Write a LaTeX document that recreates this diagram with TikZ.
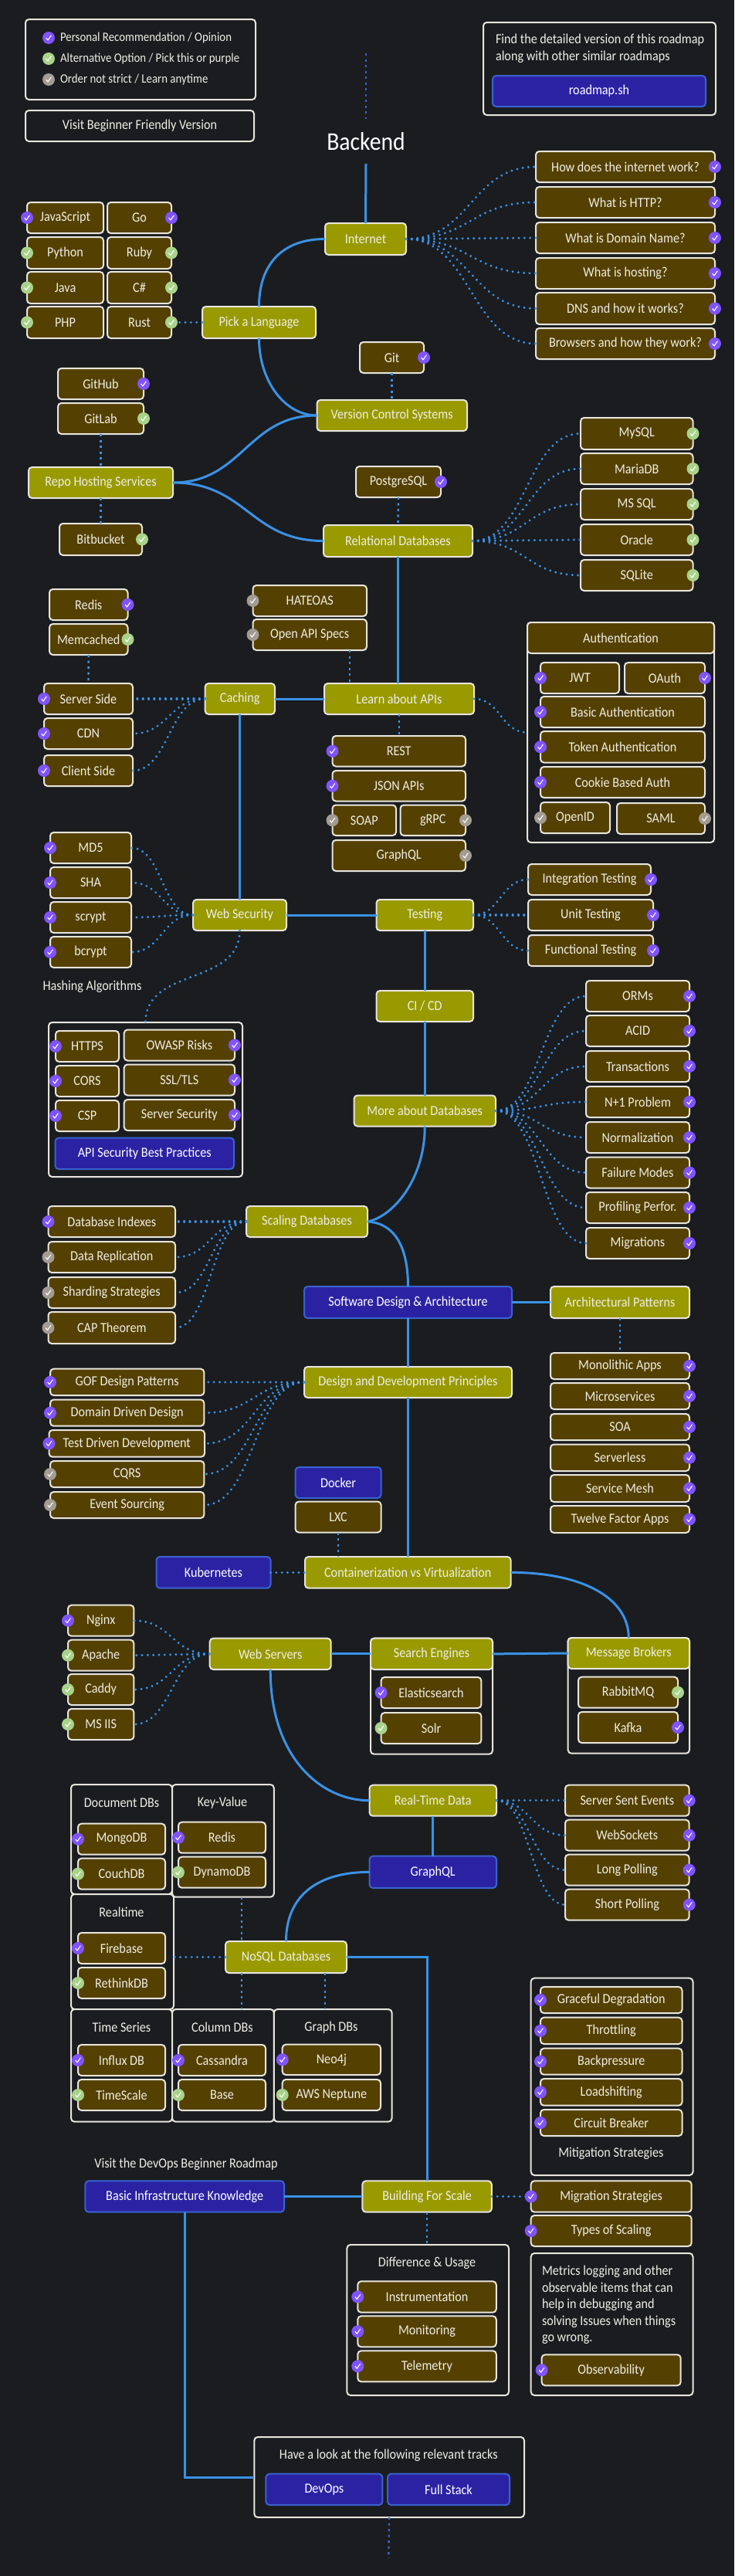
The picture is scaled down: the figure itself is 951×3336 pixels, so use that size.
\documentclass[tikz,border=0pt]{standalone}
\usepackage{fontspec}
\setmainfont[FakeStretch=0.9]{Carlito}
\usetikzlibrary{calc}
\definecolor{bgc}{HTML}{1A1C1F}
\definecolor{edgec}{HTML}{E8E5DC}
\definecolor{brownc}{HTML}{544000}
\definecolor{olivec}{HTML}{999900}
\definecolor{bluec}{HTML}{2B22A3}
\definecolor{blueedge}{HTML}{3A62CE}
\definecolor{linec}{HTML}{3A92E6}
\definecolor{purc}{HTML}{7F54FF}
\definecolor{grnc}{HTML}{A9D38A}
\definecolor{gryc}{HTML}{A29C93}
\definecolor{txtc}{HTML}{F0EEE6}
\newcounter{bdgc}
\tikzset{
  nb/.style={rounded corners=4.5,draw=edgec,line width=2,outer sep=0,inner sep=0,text=txtc,align=center,font=\fontsize{18}{20}\selectfont},
  brownbox/.style={nb,fill=brownc},
  olivebox/.style={nb,fill=olivec,text=txtc},
  bluebox/.style={nb,fill=bluec,draw=blueedge,text=white},
  contbox/.style={nb,fill=bgc},
  txt/.style={inner sep=0,outer sep=0,text=txtc,font=\fontsize{18}{20}\selectfont},
  solidl/.style={draw=linec,line width=3},
  dotl/.style={draw=linec,line width=3.2,line cap=round,dash pattern=on 0.1pt off 7.2pt},
  vdotl/.style={draw=linec,line width=2.4,dash pattern=on 3pt off 4.5pt},
  topdot/.style={draw=blueedge,line width=2.4,dash pattern=on 3pt off 4.5pt},
  badge/.style={circle,minimum size=16,inner sep=0,outer sep=0,
    path picture={\draw[white,line width=1.1,line cap=round,line join=round]
      ([shift={(-3.2,0.2)}]path picture bounding box.center) -- ++(2.2,2.8) -- ++(4.2,-6);}},
  pur/.style={badge,fill=purc},
  grn/.style={badge,fill=grnc},
  gry/.style={badge,fill=gryc},
}
\newcommand\bx[7]{\pgfmathsetmacro\bxw{#5-#3}\pgfmathsetmacro\bxh{#6-#4}\pgfmathsetmacro\bxx{(#3+#5)/2}\pgfmathsetmacro\bxy{(#4+#6)/2}\node[#2,minimum width=\bxw pt,minimum height=\bxh pt] (#1) at (\bxx,\bxy) {#7};}
\newcommand\bdg[2]{\stepcounter{bdgc}\node[#1] (badge\thebdgc) at (#2) {};}
\newcommand\fanR[3]{\draw[dotl] (#1.east) .. controls +(#3,0) and +(-#3,0) .. (#2.west);}
\newcommand\fanL[3]{\draw[dotl] (#1.west) .. controls +(-#3,0) and +(#3,0) .. (#2.east);}
\begin{document}
\begin{tikzpicture}[x=1pt,y=-1pt]
\fill[bgc] (0,0) rectangle (951,3336);
\useasboundingbox (0,0) rectangle (951,3336);

% legend and links
\bx{legend}{contbox}{33}{25}{331}{129}{}
\coordinate (lg1) at (63,49);\coordinate (lg2) at (63,76);\coordinate (lg3) at (63,103);
\bdg{pur}{lg1}\bdg{grn}{lg2}\bdg{gry}{lg3}
\node[txt,anchor=west,font=\fontsize{16.5}{18}\selectfont] (lt1) at (78,49) {Personal Recommendation / Opinion};
\node[txt,anchor=west,font=\fontsize{16.5}{18}\selectfont] (lt2) at (78,76) {Alternative Option / Pick this or purple};
\node[txt,anchor=west,font=\fontsize{16.5}{18}\selectfont] (lt3) at (78,103) {Order not strict / Learn anytime};
\bx{visit}{contbox}{33}{143}{329}{183}{Visit Beginner Friendly Version}
\bx{findbox}{contbox}{626}{29}{927}{149}{}
\node[txt,anchor=west,align=left,font=\fontsize{18}{22}\selectfont] (findtxt) at (642,63) {Find the detailed version of this roadmap\\along with other similar roadmaps};
\bx{rmsh}{bluebox}{638}{98}{914}{138}{roadmap.sh}

% title
\coordinate (t1) at (474,69);\coordinate (t2) at (474,154);\coordinate (t3) at (474,212);
\draw[topdot] (t1) -- (t2);
\node[txt,text=white,font=\fontsize{33}{36}\selectfont] (backend) at (474,183) {Backend};

% internet
\bx{internet}{olivebox}{421}{289}{526}{330}{Internet}
\bx{q1}{brownbox}{694}{196}{926}{236}{How does the internet work?}
\bx{q2}{brownbox}{694}{242}{926}{282}{What is HTTP?}
\bx{q3}{brownbox}{694}{288}{926}{328}{What is Domain Name?}
\bx{q4}{brownbox}{694}{334}{926}{374}{What is hosting?}
\bx{q5}{brownbox}{694}{379}{926}{420}{DNS and how it works?}
\bx{q6}{brownbox}{694}{425}{926}{465}{Browsers and how they work?}

% languages
\bx{js}{brownbox}{35}{262}{134}{302}{JavaScript}
\bx{go}{brownbox}{139}{262}{222}{302}{Go}
\bx{py}{brownbox}{35}{307}{134}{348}{Python}
\bx{ruby}{brownbox}{139}{307}{222}{348}{Ruby}
\bx{java}{brownbox}{35}{352}{134}{393}{Java}
\bx{cs}{brownbox}{139}{352}{222}{393}{C\#}
\bx{php}{brownbox}{35}{397}{134}{438}{PHP}
\bx{rust}{brownbox}{139}{397}{222}{438}{Rust}
\bx{pick}{olivebox}{262}{397}{409}{438}{Pick a Language}

% vcs
\bx{git}{brownbox}{466}{443}{549}{483}{Git}
\bx{vcs}{olivebox}{410.5}{518}{605}{558}{Version Control Systems}
\bx{github}{brownbox}{75}{477}{186}{517}{GitHub}
\bx{gitlab}{brownbox}{75}{522}{186}{562}{GitLab}
\bx{repo}{olivebox}{37}{605}{224}{645}{Repo Hosting Services}
\bx{bitb}{brownbox}{77}{678}{184}{719}{Bitbucket}

% relational
\bx{pg}{brownbox}{461}{604}{571}{644}{PostgreSQL}
\bx{rel}{olivebox}{419}{680}{612}{721}{Relational Databases}
\bx{mysql}{brownbox}{752}{541}{897.5}{582}{MySQL}
\bx{maria}{brownbox}{752}{587}{897.5}{627}{MariaDB}
\bx{mssql}{brownbox}{752}{633}{897.5}{673}{MS SQL}
\bx{oracle}{brownbox}{752}{679}{897.5}{719}{Oracle}
\bx{sqlite}{brownbox}{752}{725}{897.5}{765}{SQLite}

% caching
\bx{redis}{brownbox}{64}{763}{165.5}{803}{Redis}
\bx{memc}{brownbox}{64}{808}{165.5}{848}{Memcached}
\bx{sside}{brownbox}{57}{885}{172}{925}{Server Side}
\bx{cdn}{brownbox}{57}{930}{172}{970}{CDN}
\bx{cside}{brownbox}{57}{978}{172}{1018}{Client Side}
\bx{caching}{olivebox}{265.6}{885}{356}{925}{Caching}

% apis
\bx{hateoas}{brownbox}{327.5}{758}{475}{798}{HATEOAS}
\bx{openapi}{brownbox}{327.5}{802}{475}{842}{Open API Specs}
\bx{learn}{olivebox}{420}{885}{614}{925}{Learn about APIs}
\bx{rest}{brownbox}{430.5}{953}{603}{992.5}{REST}
\bx{jsonapi}{brownbox}{430.5}{998}{603}{1037.5}{JSON APIs}
\bx{soap}{brownbox}{430.5}{1042.5}{513}{1082}{SOAP}
\bx{grpc}{brownbox}{518.5}{1042.5}{603}{1082}{gRPC}
\bx{gqlapi}{brownbox}{430.5}{1088}{603}{1128}{GraphQL}

% authentication
\bx{auth}{contbox}{683}{806}{925}{1091}{}
\bx{authh}{brownbox}{683}{806}{925}{846}{Authentication}
\bx{jwt}{brownbox}{700}{858}{802}{898}{JWT}
\bx{oauth}{brownbox}{809}{858}{913}{898}{OAuth}
\bx{basicauth}{brownbox}{700}{902}{913}{942}{Basic Authentication}
\bx{tokenauth}{brownbox}{700}{947}{913}{987.5}{Token Authentication}
\bx{cookie}{brownbox}{700}{993}{913}{1033}{Cookie Based Auth}
\bx{openid}{brownbox}{700}{1039}{790}{1079}{OpenID}
\bx{saml}{brownbox}{799}{1040}{913}{1080}{SAML}

% web security
\bx{md5}{brownbox}{65}{1078}{170}{1118}{MD5}
\bx{sha}{brownbox}{65}{1123}{170}{1163}{SHA}
\bx{scrypt}{brownbox}{65}{1168}{170}{1208}{scrypt}
\bx{bcrypt}{brownbox}{65}{1213}{170}{1253}{bcrypt}
\node[txt] (hashing) at (119.5,1278) {Hashing Algorithms};
\bx{websec}{olivebox}{250}{1165}{371}{1205}{Web Security}
\bx{apisec}{contbox}{63}{1324}{314}{1524}{}
\bx{https}{brownbox}{72}{1335}{154}{1375}{HTTPS}
\bx{owasp}{brownbox}{160.7}{1333.5}{304}{1373.5}{OWASP Risks}
\bx{cors}{brownbox}{72}{1380}{154}{1420}{CORS}
\bx{ssl}{brownbox}{160.7}{1378.5}{304}{1418.5}{SSL/TLS}
\bx{csp}{brownbox}{72}{1425}{154}{1465}{CSP}
\bx{srvsec}{brownbox}{160.7}{1424}{304}{1464}{Server Security}
\bx{apibest}{bluebox}{71.5}{1473.6}{303}{1514}{API Security Best Practices}

% testing
\bx{testing}{olivebox}{487.5}{1165}{613}{1205}{Testing}
\bx{itest}{brownbox}{684}{1119}{843}{1159}{Integration Testing}
\bx{utest}{brownbox}{684}{1165}{846}{1205}{Unit Testing}
\bx{ftest}{brownbox}{684}{1211}{846}{1251}{Functional Testing}
\bx{cicd}{olivebox}{487.5}{1283}{613}{1323}{CI / CD}

% more about databases
\bx{moredb}{olivebox}{458.5}{1418.5}{642}{1458.5}{More about Databases}
\bx{orm}{brownbox}{759}{1270}{893}{1310}{ORMs}
\bx{acid}{brownbox}{759}{1315}{893}{1355}{ACID}
\bx{trans}{brownbox}{759}{1361}{893}{1401}{Transactions}
\bx{nplus}{brownbox}{759}{1407}{893}{1447}{N+1 Problem}
\bx{norm}{brownbox}{759}{1453}{893}{1493}{Normalization}
\bx{fail}{brownbox}{759}{1498.6}{893}{1538.5}{Failure Modes}
\bx{prof}{brownbox}{759}{1544}{893}{1584}{Profiling Perfor.}
\bx{migr}{brownbox}{759}{1590}{893}{1630}{Migrations}

% scaling
\bx{scaling}{olivebox}{319}{1562}{476}{1602}{Scaling Databases}
\bx{dbidx}{brownbox}{62.5}{1562}{227}{1602}{Database Indexes}
\bx{drep}{brownbox}{62.5}{1608}{227}{1648}{Data Replication}
\bx{shard}{brownbox}{62.5}{1654}{227}{1694}{Sharding Strategies}
\bx{cap}{brownbox}{62.5}{1699}{227}{1740}{CAP Theorem}

% design
\bx{sda}{bluebox}{394}{1666}{663}{1707}{Software Design \& Architecture}
\bx{archp}{olivebox}{713}{1666}{893}{1707}{Architectural Patterns}
\bx{mono}{brownbox}{713}{1752}{893}{1786}{Monolithic Apps}
\bx{micro}{brownbox}{713}{1791}{893}{1825}{Microservices}
\bx{soa}{brownbox}{713}{1831}{893}{1865}{SOA}
\bx{srvl}{brownbox}{713}{1870.5}{893}{1905}{Serverless}
\bx{mesh}{brownbox}{713}{1910}{893}{1945}{Service Mesh}
\bx{twelve}{brownbox}{713}{1950}{893}{1985}{Twelve Factor Apps}
\bx{ddp}{olivebox}{394}{1770}{663}{1810}{Design and Development Principles}
\bx{gof}{brownbox}{65}{1772.7}{264.4}{1807}{GOF Design Patterns}
\bx{ddd}{brownbox}{65}{1812.6}{264.4}{1846.7}{Domain Driven Design}
\bx{tdd}{brownbox}{63.5}{1852}{265}{1886.7}{Test Driven Development}
\bx{cqrs}{brownbox}{65}{1892}{264.4}{1926}{CQRS}
\bx{evsrc}{brownbox}{65}{1932}{264.4}{1966}{Event Sourcing}

% containers
\bx{docker}{bluebox}{382.6}{1900}{493.6}{1940}{Docker}
\bx{lxc}{brownbox}{382.6}{1944.5}{493.6}{1984.5}{LXC}
\bx{kube}{bluebox}{202.5}{2016}{350.5}{2056.7}{Kubernetes}
\bx{contv}{olivebox}{395}{2016}{661.6}{2056.7}{Containerization vs Virtualization}

% web servers
\bx{nginx}{brownbox}{88}{2078.7}{173.4}{2118.7}{Nginx}
\bx{apache}{brownbox}{88}{2123.7}{173.4}{2163.7}{Apache}
\bx{caddy}{brownbox}{88}{2168}{173.4}{2208}{Caddy}
\bx{msiis}{brownbox}{88}{2213}{173.4}{2253}{MS IIS}
\bx{websrv}{olivebox}{271.7}{2121.7}{428.7}{2162}{Web Servers}
\bx{searchc}{contbox}{480}{2121.7}{638}{2271.7}{}
\bx{search}{olivebox}{480}{2121.7}{638}{2162}{Search Engines}
\bx{elastic}{brownbox}{493.6}{2172}{623.4}{2212}{Elasticsearch}
\bx{solr}{brownbox}{493.6}{2218}{623.4}{2258}{Solr}
\bx{msgc}{contbox}{735.6}{2121}{893}{2270.7}{}
\bx{msg}{olivebox}{735.6}{2121}{893}{2161}{Message Brokers}
\bx{rabbit}{brownbox}{749}{2171.7}{878}{2211.7}{RabbitMQ}
\bx{kafka}{brownbox}{749}{2217}{878}{2257}{Kafka}

% real time
\bx{rtd}{olivebox}{478.5}{2311.7}{643}{2351.7}{Real-Time Data}
\bx{sse}{brownbox}{732}{2311.7}{892.7}{2351.7}{Server Sent Events}
\bx{wsock}{brownbox}{732}{2356.7}{892.7}{2396.7}{WebSockets}
\bx{lpoll}{brownbox}{732}{2401.7}{892.7}{2441.7}{Long Polling}
\bx{spoll}{brownbox}{732}{2446.7}{892.7}{2486.7}{Short Polling}
\bx{gql}{bluebox}{478.5}{2403.7}{643}{2445}{GraphQL}

% nosql groups
\bx{docdb}{contbox}{92}{2311}{223}{2453}{}
\node[txt] (docdbt) at (157.5,2334.7) {Document DBs};
\bx{mongo}{brownbox}{101}{2361.7}{214}{2401.7}{MongoDB}
\bx{couch}{brownbox}{101}{2406.7}{214}{2446.7}{CouchDB}
\bx{kv}{contbox}{223}{2311}{354.8}{2456.7}{}
\node[txt] (kvt) at (288,2334.7) {Key-Value};
\bx{kvredis}{brownbox}{231}{2359.7}{344}{2399.7}{Redis}
\bx{dynamo}{brownbox}{231}{2404.7}{344}{2444.7}{DynamoDB}
\bx{rtdb}{contbox}{92}{2453}{225}{2602}{}
\node[txt] (rtdbt) at (157.5,2476) {Realtime};
\bx{fireb}{brownbox}{101}{2503}{214}{2543}{Firebase}
\bx{rethink}{brownbox}{101}{2548}{214}{2588}{RethinkDB}
\bx{nosql}{olivebox}{292}{2514}{449}{2555}{NoSQL Databases}
\bx{tsdb}{contbox}{92}{2602}{223}{2747.7}{}
\node[txt] (tsdbt) at (157.5,2625.7) {Time Series};
\bx{influx}{brownbox}{101}{2648}{214}{2688}{Influx DB}
\bx{tscale}{brownbox}{101}{2693}{214}{2733}{TimeScale}
\bx{coldb}{contbox}{223}{2602}{354.8}{2747.7}{}
\node[txt] (coldbt) at (288,2625.7) {Column DBs};
\bx{cass}{brownbox}{231}{2648}{344}{2688}{Cassandra}
\bx{base}{brownbox}{231}{2693}{344}{2733}{Base}
\bx{gdb}{contbox}{354.8}{2602}{507.6}{2747.7}{}
\node[txt] (gdbt) at (429,2625.7) {Graph DBs};
\bx{neo}{brownbox}{365.7}{2647.7}{493}{2687}{Neo4j}
\bx{neptune}{brownbox}{365.7}{2693}{493}{2733}{AWS Neptune}

% scale
\bx{mitc}{contbox}{687.7}{2561.7}{897.5}{2817}{}
\bx{grace}{brownbox}{700}{2573}{883.5}{2607}{Graceful Degradation}
\bx{throt}{brownbox}{700}{2612.7}{883.5}{2647}{Throttling}
\bx{backp}{brownbox}{700}{2652.7}{883.5}{2686.7}{Backpressure}
\bx{loads}{brownbox}{700}{2692}{883.5}{2726.7}{Loadshifting}
\bx{circuit}{brownbox}{700}{2732}{883.5}{2766}{Circuit Breaker}
\node[txt] (mitt) at (791.4,2789) {Mitigation Strategies};
\node[txt] (devopsv) at (241,2802.7) {Visit the DevOps Beginner Roadmap};
\bx{infra}{bluebox}{110.4}{2824.3}{368}{2864.7}{Basic Infrastructure Knowledge}
\bx{scale}{olivebox}{469.4}{2824.3}{636.8}{2864.7}{Building For Scale}
\bx{migs}{brownbox}{687.7}{2824.3}{895.7}{2864.7}{Migration Strategies}
\bx{types}{brownbox}{687.7}{2869}{895.7}{2909}{Types of Scaling}
\bx{diff}{contbox}{449.4}{2907}{659}{3102}{}
\node[txt] (difft) at (553,2930.7) {Difference \& Usage};
\bx{instr}{brownbox}{463.3}{2954.3}{642.8}{2994.7}{Instrumentation}
\bx{monit}{brownbox}{463.3}{2999.3}{642.8}{3039.3}{Monitoring}
\bx{telem}{brownbox}{463.3}{3044.3}{642.8}{3084.3}{Telemetry}
\bx{obsc}{contbox}{687.7}{2918}{897.5}{3102}{}
\node[txt,anchor=west,align=left,font=\fontsize{18}{21.6}\selectfont] (obst) at (702,2985) {Metrics logging and other\\observable items that can\\help in debugging and\\solving Issues when things\\go wrong.};
\bx{obs}{brownbox}{701.6}{3049.3}{881.7}{3089.3}{Observability}
\bx{tracks}{contbox}{329.3}{3156}{679}{3260}{}
\node[txt] (trackst) at (503.3,3180) {Have a look at the following relevant tracks};
\bx{devops}{bluebox}{344.4}{3203.7}{495.4}{3244}{DevOps}
\bx{fullst}{bluebox}{502}{3203.7}{660}{3244}{Full Stack}
\coordinate (endp) at (503.3,3313);

% solid connectors
\draw[solidl] (t3) -- (internet.north);
\draw[solidl] (internet.west) .. controls +(-55,0) and +(0,-55) .. (pick.north);
\draw[solidl] (pick.south) .. controls +(0,55) and +(-42,0) .. (vcs.west);
\draw[solidl] (repo.east) .. controls +(90,0) and +(-90,0) .. (vcs.west);
\draw[solidl] (repo.east) .. controls +(95,0) and +(-95,0) .. (rel.west);
\draw[solidl] (rel.south) -- (learn.north -| rel.south);
\draw[solidl] (learn.west) -- (caching.east);
\draw[solidl] (caching.south) -- (websec.north -| caching.south);
\draw[solidl] (websec.east) -- (testing.west);
\draw[solidl] (testing.south) -- (cicd.north);
\draw[solidl] (cicd.south) -- (moredb.north);
\draw[solidl] (moredb.south) .. controls +(0,70) and +(32,-6) .. (scaling.east);
\draw[solidl] (scaling.east) .. controls +(36,2) and +(0,-50) .. (sda.north);
\draw[solidl] (sda.east) -- (archp.west);
\draw[solidl] (sda.south) -- (ddp.north);
\draw[solidl] (ddp.south) -- (contv.north -| ddp.south);
\draw[solidl] (contv.east) .. controls +(92,0) and +(0,-52) .. (msg.north);
\draw[solidl] (websrv.east) -- (search.west);
\draw[solidl] (search.east) -- (msg.west);
\draw[solidl] (websrv.south) .. controls +(0,115) and +(-62,0) .. (rtd.west);
\draw[solidl] (rtd.south) -- (gql.north);
\draw[solidl] (gql.west) .. controls +(-72,0) and +(0,-55) .. (nosql.north);
\draw[solidl] (nosql.east) -| (scale.north);
\draw[solidl] (infra.east) -- (scale.west);
\draw[solidl] (infra.south) |- (tracks.west);

% dotted fans
\foreach \q in {q1,q2,q3,q4,q5,q6}{\fanR{internet}{\q}{84}}
\foreach \q in {mysql,maria,mssql,oracle,sqlite}{\fanR{rel}{\q}{70}}
\foreach \q in {sside,cdn,cside}{\fanL{caching}{\q}{46}}
\fanR{learn}{auth}{35}
\foreach \q in {md5,sha,scrypt,bcrypt}{\fanL{websec}{\q}{40}}
\foreach \q in {itest,utest,ftest}{\fanR{testing}{\q}{35}}
\foreach \q in {orm,acid,trans,nplus,norm,fail,prof,migr}{\fanR{moredb}{\q}{58}}
\foreach \q in {dbidx,drep,shard,cap}{\fanL{scaling}{\q}{46}}
\foreach \q in {gof,ddd,tdd,cqrs,evsrc}{\fanL{ddp}{\q}{65}}
\foreach \q in {nginx,apache,caddy,msiis}{\fanL{websrv}{\q}{49}}
\foreach \q in {sse,wsock,lpoll,spoll}{\fanR{rtd}{\q}{44}}
\draw[dotl] (pick.west) -- (rust.east);
\draw[dotl] (kube.east) -- (contv.west);
\draw[dotl] (nosql.west) -- (nosql.west -| rtdb.east);
\draw[dotl] (scale.east) -- (migs.west);
\draw[dotl] (websec.south) .. controls +(0,72) and +(0,-72) .. (apisec.north);

% straight dashed-dot connectors
\coordinate (xoa) at (453,0);\coordinate (xkv) at (313,0);\coordinate (xgr) at (421,0);
\draw[vdotl] (git.south) -- (vcs.north -| git.south);
\draw[vdotl] (gitlab.south) -- (repo.north);
\draw[vdotl] (repo.south) -- (bitb.north);
\draw[vdotl] (pg.south) -- (rel.north);
\draw[vdotl] (memc.south) -- (sside.north);
\draw[vdotl] (openapi.south -| xoa) -- (learn.north -| xoa);
\draw[vdotl] (learn.south) -- (rest.north -| learn.south);
\draw[vdotl] (archp.south) -- (mono.north);
\draw[vdotl] (lxc.south) -- (contv.north -| lxc.south);
\draw[vdotl] (kv.south -| xkv) -- (nosql.north -| xkv);
\draw[vdotl] (nosql.south -| xkv) -- (coldb.north -| xkv);
\draw[vdotl] (nosql.south -| xgr) -- (gdb.north -| xgr);
\draw[vdotl] (scale.south) -- (diff.north -| scale.south);
\draw[topdot] (tracks.south) -- (endp);

% badges
\foreach \q in {q1,q2,q3,q4,q5,q6}{\bdg{pur}{\q.east}}
\bdg{pur}{js.west}\bdg{pur}{go.east}\bdg{grn}{py.west}\bdg{grn}{ruby.east}\bdg{grn}{java.west}\bdg{grn}{cs.east}\bdg{grn}{php.west}\bdg{grn}{rust.east}
\bdg{pur}{git.east}\bdg{pur}{github.east}\bdg{grn}{gitlab.east}\bdg{grn}{bitb.east}\bdg{pur}{pg.east}
\foreach \q in {mysql,maria,mssql,oracle,sqlite}{\bdg{grn}{\q.east}}
\bdg{pur}{redis.east}\bdg{grn}{memc.east}\bdg{pur}{sside.west}\bdg{pur}{cdn.west}\bdg{pur}{cside.west}
\bdg{gry}{hateoas.west}\bdg{gry}{openapi.west}
\bdg{pur}{rest.west}\bdg{pur}{jsonapi.west}\bdg{gry}{soap.west}\bdg{gry}{grpc.east}\bdg{gry}{gqlapi.east}
\bdg{pur}{jwt.west}\bdg{pur}{oauth.east}\bdg{pur}{basicauth.west}\bdg{pur}{tokenauth.west}\bdg{pur}{cookie.west}\bdg{gry}{openid.west}\bdg{gry}{saml.east}
\foreach \q in {md5,sha,scrypt,bcrypt,https,cors,csp}{\bdg{pur}{\q.west}}
\foreach \q in {owasp,ssl,srvsec,itest,utest,ftest}{\bdg{pur}{\q.east}}
\foreach \q in {orm,acid,trans,nplus,norm,fail,prof,migr}{\bdg{pur}{\q.east}}
\bdg{pur}{dbidx.west}\bdg{gry}{drep.west}\bdg{gry}{shard.west}\bdg{gry}{cap.west}
\foreach \q in {mono,micro,soa,srvl,mesh,twelve}{\bdg{pur}{\q.east}}
\bdg{pur}{gof.west}\bdg{pur}{ddd.west}\bdg{pur}{tdd.west}\bdg{gry}{cqrs.west}\bdg{gry}{evsrc.west}
\bdg{pur}{nginx.west}\bdg{grn}{apache.west}\bdg{grn}{caddy.west}\bdg{grn}{msiis.west}
\bdg{pur}{elastic.west}\bdg{grn}{solr.west}\bdg{grn}{rabbit.east}\bdg{pur}{kafka.east}
\foreach \q in {sse,wsock,lpoll,spoll}{\bdg{pur}{\q.east}}
\bdg{pur}{mongo.west}\bdg{grn}{couch.west}\bdg{pur}{kvredis.west}\bdg{grn}{dynamo.west}\bdg{pur}{fireb.west}\bdg{grn}{rethink.west}
\bdg{pur}{influx.west}\bdg{grn}{tscale.west}\bdg{pur}{cass.west}\bdg{grn}{base.west}\bdg{pur}{neo.west}\bdg{grn}{neptune.west}
\foreach \q in {grace,throt,backp,loads,circuit,migs,types,instr,monit,telem,obs}{\bdg{pur}{\q.west}}
\end{tikzpicture}
\end{document}
